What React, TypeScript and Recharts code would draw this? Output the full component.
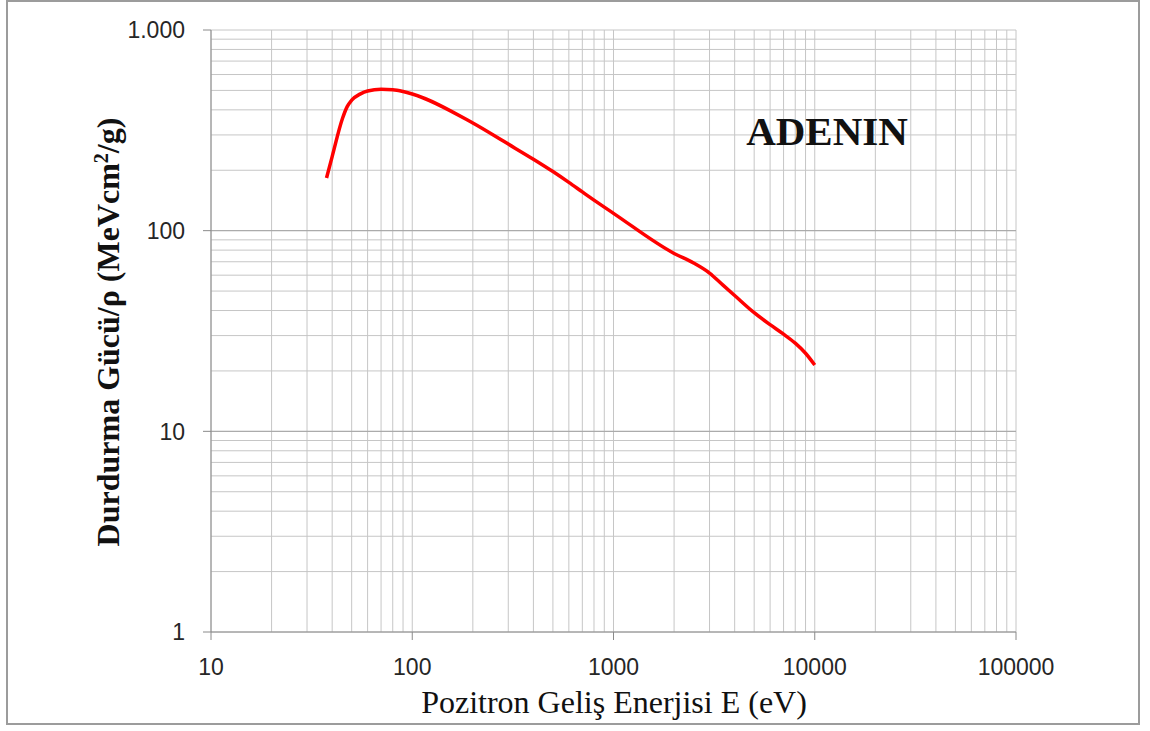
import { LineChart, Line, XAxis, YAxis, CartesianGrid, ReferenceLine } from 'recharts'

// Pozitron enerjisi (eV) ve durdurma gücü (MeVcm²/g)
const energy = [37.5, 40, 45, 47.5, 50, 55, 60, 70, 80, 90, 100, 200, 300, 400, 500, 600, 700, 800, 900, 1000, 2000, 2500, 3000, 3500, 4000, 5000, 6000, 7000, 8000, 9000, 10000]
const stopping = [183, 234, 362, 415, 447, 479, 497, 506, 504, 494, 480, 344, 270, 227, 197, 174, 156, 142, 131, 122, 77, 69, 61.5, 53.5, 47.5, 39, 34, 30.5, 27.5, 24.5, 21.4]

const xMajor = [10, 100, 1000, 10000, 100000]
const xMajorLabels = ['10', '100', '1000', '10000', '100000']
const yMajor = [1, 10, 100, 1000]
const yMajorLabels = ['1', '10', '100', '1.000']
const multiples = [1, 2, 3, 4, 5, 6, 7, 8, 9]

const xTicks = xMajor.slice(0, -1).flatMap(d => multiples.map(m => d * m)).concat([100000])
const yTicks = yMajor.slice(0, -1).flatMap(d => multiples.map(m => d * m)).concat([1000])

const data = energy.map((e, i) => ({ e, s: stopping[i] }))

const tickFont = { fontFamily: '"Liberation Sans", Arial, sans-serif', fontSize: 23, fill: '#262626' }

function XTick(props: any) {
  const { x, y, payload } = props
  const i = xMajor.indexOf(payload.value)
  if (i < 0) return <g />
  return (
    <g>
      <line x1={x} x2={x} y1={y - 8} y2={y} stroke="#8a8a8a" />
      <text x={x} y={y + 35} textAnchor="middle" {...tickFont}>{xMajorLabels[i]}</text>
    </g>
  )
}

function YTick(props: any) {
  const { x, y, payload } = props
  const i = yMajor.indexOf(payload.value)
  if (i < 0) return <g />
  return (
    <g>
      <line x1={x} x2={x + 8} y1={y} y2={y} stroke="#8a8a8a" />
      <text x={x - 18} y={y} dy="0.36em" textAnchor="end" {...tickFont}>{yMajorLabels[i]}</text>
    </g>
  )
}

export default function App() {
  const serif = '"Liberation Serif", "Times New Roman", serif'
  return (
    <div style={{ position: 'absolute', left: 0, top: 0, width: 1150, height: 731, background: '#fff', overflow: 'hidden' }}>
      <div style={{ position: 'absolute', left: 6, top: 0, width: 1134, height: 725, boxSizing: 'border-box', border: '2px solid #9c9c9c' }} />
      <div style={{ position: 'absolute', left: 0, top: 0 }}>
        <LineChart width={1150} height={731} data={data} margin={{ top: 30, right: 134, bottom: 49, left: 91 }}>
          <CartesianGrid stroke="#c6c6c6" strokeWidth={1} />
          <XAxis
            dataKey="e"
            type="number"
            scale="log"
            domain={[10, 100000]}
            ticks={xTicks}
            interval={0}
            height={50}
            tickSize={8}
            tickMargin={0}
            tickLine={false}
            axisLine={{ stroke: '#8a8a8a' }}
            tick={<XTick />}
          />
          <YAxis
            type="number"
            scale="log"
            domain={[1, 1000]}
            ticks={yTicks}
            interval={0}
            width={120}
            tickSize={8}
            tickMargin={0}
            tickLine={false}
            axisLine={{ stroke: '#8a8a8a' }}
            tick={<YTick />}
          />
          <ReferenceLine y={10} stroke="#a4a4a4" />
          <ReferenceLine y={100} stroke="#a4a4a4" />
          <Line
            type="monotone"
            dataKey="s"
            stroke="#ff0000"
            strokeWidth={3.5}
            dot={false}
            activeDot={false}
            isAnimationActive={false}
          />
        </LineChart>
      </div>
      <div style={{ position: 'absolute', left: 614, top: 684, transform: 'translateX(-50%)', fontFamily: serif, fontSize: 32, lineHeight: '36px', whiteSpace: 'nowrap', color: '#111' }}>
        Pozitron Geliş Enerjisi E (eV)
      </div>
      <div style={{ position: 'absolute', left: 104, top: 332, transform: 'translate(-50%, -50%) rotate(-90deg)', fontFamily: serif, fontWeight: 'bold', fontSize: 32, lineHeight: '36px', whiteSpace: 'nowrap', color: '#111' }}>
        Durdurma Gücü/ρ (MeVcm<span style={{ fontSize: 20, verticalAlign: '0.55em' }}>2</span>/g)
      </div>
      <div style={{ position: 'absolute', left: 827, top: 108, transform: 'translateX(-50%)', fontFamily: serif, fontWeight: 'bold', fontSize: 41, lineHeight: '46px', whiteSpace: 'nowrap', color: '#111' }}>
        ADENIN
      </div>
    </div>
  )
}
